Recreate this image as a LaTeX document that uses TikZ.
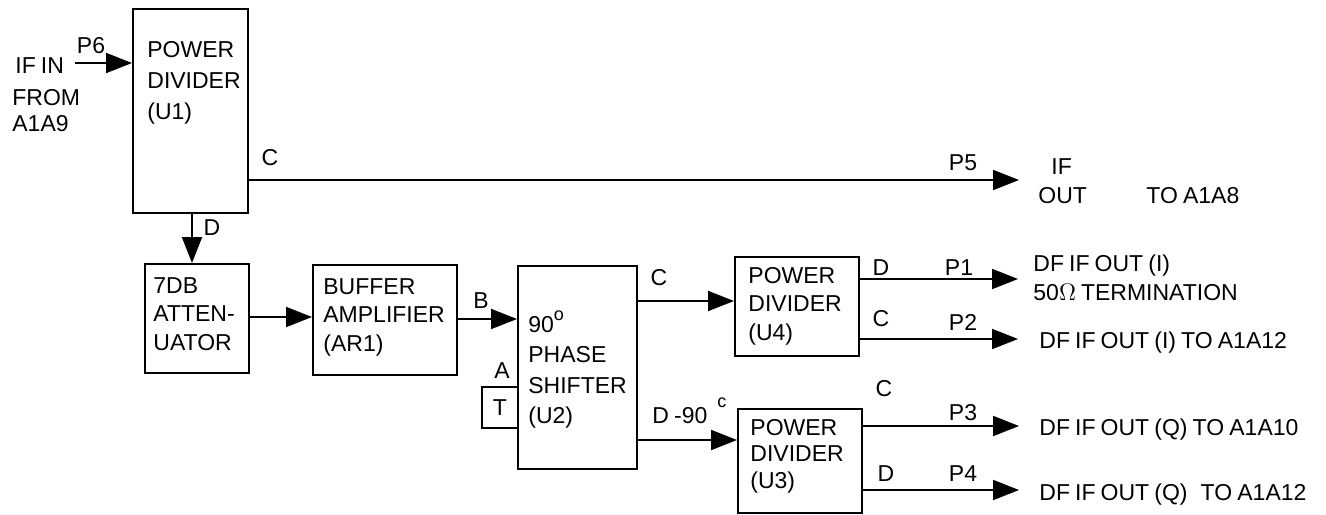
\documentclass[tikz,border=0pt]{standalone}
\usepackage{fontspec}
\setmainfont{Liberation Sans}[WordSpace=0.8]
\usetikzlibrary{arrows.meta}
\begin{document}
\begin{tikzpicture}[x=0.5pt,y=-0.5pt,
  box/.style={draw, line width=1pt, inner sep=0pt, anchor=north west},
  txt/.style={inner sep=0pt, font=\fontsize{11.5}{14.25}\selectfont},
  btxt/.style={txt, anchor=north west, align=left},
  lbl/.style={txt, anchor=base west},
  clbl/.style={txt, anchor=base},
  arr/.style={line width=1pt, -{Triangle[length=13pt,width=10pt]}}]
\useasboundingbox (0,0) rectangle (1326,514);

% boxes
\node[box, minimum width=57.5pt, minimum height=102pt] (U1) at (132,8) {};
\node[box, minimum width=52pt, minimum height=54.5pt] (att) at (144,263) {};
\node[box, minimum width=72pt, minimum height=55pt] (buf) at (312,264) {};
\node[box, minimum width=59.5pt, minimum height=101.5pt] (U2) at (517,265) {};
\node[box, minimum width=18pt, minimum height=20.5pt] (T) at (481,386) {};
\node[box, minimum width=62pt, minimum height=49.5pt] (U4) at (734,256) {};
\node[box, minimum width=62pt, minimum height=52pt] (U3) at (737,408) {};

% box texts
\node[btxt, font=\fontsize{11.5}{15.5}\selectfont] (U1t) at (147,41) {POWER\\DIVIDER\\(U1)};
\node[btxt] (attt) at (153,277) {7DB\\ATTEN-\\UATOR};
\node[btxt] (buft) at (323,278) {BUFFER\\AMPLIFIER\\(AR1)};
\node[btxt, font=\fontsize{11.5}{15.2}\selectfont] (U2t) at (528,310) {90\raisebox{1.0ex}{\fontsize{9}{9}\selectfont o}\\PHASE\\SHIFTER\\(U2)};
\node[txt] (Tt) at (T.center) {T};
\node[btxt] (U4t) at (748,267) {POWER\\DIVIDER\\(U4)};
\node[btxt, font=\fontsize{11.5}{13.25}\selectfont] (U3t) at (750,419) {POWER\\DIVIDER\\(U3)};

% input
\node[lbl] (ifin) at (15,73) {IF IN};
\node[lbl] (from) at (12,105) {FROM};
\node[lbl] (a1a9) at (12,131) {A1A9};
\node[clbl] (p6) at (91,53) {P6};
\coordinate (inA) at (75,63);
\draw[arr] (inA) -- (inA -| U1.west);

% U1 output C
\coordinate (p5tip) at (1019,180);
\draw[arr] (U1.east |- p5tip) -- (p5tip);
\node[clbl] (c1) at (270,165) {C};
\node[clbl] (p5) at (963,170) {P5};
\node[lbl] (ifo) at (1051,174) {IF};
\node[lbl] (out) at (1038,203) {OUT};
\node[lbl] (toa8) at (1146,203) {TO A1A8};

% U1 -> attenuator
\coordinate (dx) at (192,0);
\draw[arr] (U1.south -| dx) -- (att.north -| dx);
\node[clbl] (d1) at (212,235) {D};

% attenuator -> buffer
\coordinate (y1) at (0,317);
\draw[arr] (att.east |- y1) -- (buf.west |- y1);

% buffer -> U2
\coordinate (y2) at (0,319);
\draw[arr] (buf.east |- y2) -- (U2.west |- y2);
\node[clbl] (b) at (481,308) {B};

% T terminator
\node[clbl] (a) at (502,378) {A};

% U2 -> U4
\coordinate (y3) at (0,301);
\draw[arr] (U2.east |- y3) -- (U4.west |- y3);
\node[clbl] (c2) at (659,285) {C};

% U2 -> U3
\coordinate (y4) at (0,440);
\draw[arr] (U2.east |- y4) -- (U3.west |- y4);
\node[lbl] (d2) at (652,423) {D -90\hspace{5pt}\raisebox{1.3ex}{\fontsize{9}{9}\selectfont c}};

% U4 outputs
\coordinate (o1) at (1018,279);
\coordinate (o2) at (1018,339);
\draw[arr] (U4.east |- o1) -- (o1);
\draw[arr] (U4.east |- o2) -- (o2);
\node[clbl] (d3) at (881,275) {D};
\node[clbl] (p1) at (959,275) {P1};
\node[clbl] (c3) at (881,326) {C};
\node[clbl] (p2) at (963,330) {P2};
\node[lbl] (dfi) at (1033,271) {DF IF OUT (I)};
\node[lbl] (term) at (1033,300) {50$\Omega$ TERMINATION};
\node[lbl] (dfi12) at (1039,348) {DF IF OUT (I) TO A1A12};

% U3 outputs
\coordinate (o3) at (1019,426);
\coordinate (o4) at (1019,490);
\draw[arr] (U3.east |- o3) -- (o3);
\draw[arr] (U3.east |- o4) -- (o4);
\node[clbl] (c4) at (884,396) {C};
\node[clbl] (p3) at (963,420) {P3};
\node[clbl] (d4) at (886,481) {D};
\node[clbl] (p4) at (963,481) {P4};
\node[lbl] (dfq10) at (1039,435) {DF IF OUT (Q) TO A1A10};
\node[lbl] (dfq12) at (1039,500) {DF IF OUT (Q)\hspace{4pt} TO A1A12};
\end{tikzpicture}
\end{document}
